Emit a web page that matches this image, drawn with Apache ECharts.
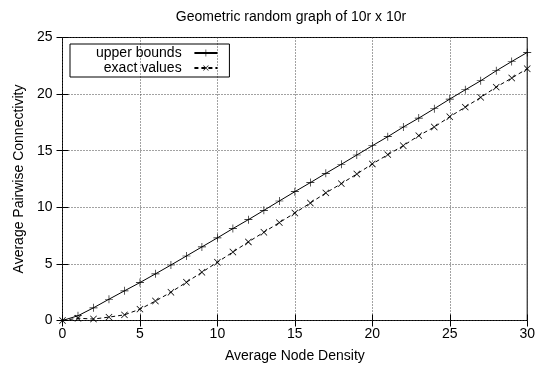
<!DOCTYPE html>
<html>
<head>
<meta charset="utf-8">
<script src="https://cdn.jsdelivr.net/npm/echarts@6/dist/echarts.min.js"></script>
<style>
  html, body { margin: 0; padding: 0; background: #fff; }
  #chart { width: 538px; height: 372px; }
</style>
</head>
<body>
<div id="chart"></div>
<script>
// Average node density (x) and the two connectivity curves
const density = [0,1,2,3,4,5,6,7,8,9,10,11,12,13,14,15,16,17,18,19,20,21,22,23,24,25,26,27,28,29,30];
const upperBounds = [0,0.42,1.12,1.88,2.62,3.35,4.12,4.9,5.7,6.5,7.3,8.12,8.91,9.73,10.56,11.38,12.18,13.0,13.8,14.62,15.44,16.24,17.09,17.88,18.71,19.56,20.38,21.18,22.06,22.88,23.68];
const exactValues = [0,0.2,0.13,0.3,0.5,1.0,1.72,2.5,3.38,4.26,5.15,6.05,6.94,7.8,8.65,9.5,10.38,11.27,12.09,12.94,13.83,14.65,15.44,16.33,17.09,18.0,18.85,19.71,20.62,21.42,22.24];
const xTicks = [0,5,10,15,20,25,30];
const yTicks = [0,5,10,15,20,25];

const FONT = 'Liberation Sans, Arial, sans-serif';
const plus = 'path://M0,4.6H10V5.4H0Z M4.6,0H5.4V10H4.6Z';

const pairs = (ys) => density.map((x, i) => [x, ys[i]]);

const tickAxisX = (pos, showLabel) => ({
  type: 'value', position: pos, min: xTicks[0], max: xTicks[xTicks.length - 1], interval: xTicks[1] - xTicks[0],
  axisLine: { show: false },
  axisTick: { show: true, inside: true, length: 6, lineStyle: { color: '#000' } },
  axisLabel: { show: showLabel, color: '#000', fontFamily: FONT, fontSize: 14, margin: 7 },
  splitLine: { show: showLabel, lineStyle: { color: '#444', type: [1, 2], width: 1 } }
});
const tickAxisY = (pos, showLabel) => ({
  type: 'value', position: pos, min: yTicks[0], max: yTicks[yTicks.length - 1], interval: yTicks[1] - yTicks[0],
  axisLine: { show: false },
  axisTick: { show: true, inside: true, length: 6, lineStyle: { color: '#000' } },
  axisLabel: { show: showLabel, color: '#000', fontFamily: FONT, fontSize: 14, margin: 10 },
  splitLine: { show: showLabel, lineStyle: { color: '#444', type: [1, 2], width: 1 } }
});

const chart = echarts.init(document.getElementById('chart'), null, { renderer: 'canvas' });
chart.setOption({
  animation: false,
  backgroundColor: '#fff',
  title: {
    text: 'Geometric random graph of 10r x 10r',
    left: 286, top: 5, textAlign: 'center',
    textStyle: { fontFamily: FONT, fontSize: 14, fontWeight: 'normal', color: '#000' }
  },
  legend: {
    left: 70, top: 44, orient: 'vertical', align: 'right',
    itemWidth: 23, itemHeight: 9, itemGap: 1,
    padding: [2, 11, 2, 26],
    borderColor: '#000', borderWidth: 1,
    formatter: (name) => name + '  ',
    textStyle: { fontFamily: FONT, fontSize: 14, lineHeight: 12, color: '#000' },
    data: ['upper bounds', 'exact values']
  },
  grid: {
    left: 62.5, right: 10.5, top: 37.5, bottom: 51.5,
    show: true, borderColor: '#000', borderWidth: 1, backgroundColor: 'transparent'
  },
  xAxis: [
    Object.assign(tickAxisX('bottom', true), {
      name: 'Average Node Density', nameLocation: 'middle', nameGap: 29,
      nameTextStyle: { fontFamily: FONT, fontSize: 14, color: '#000' }
    }),
    tickAxisX('top', false)
  ],
  yAxis: [
    Object.assign(tickAxisY('left', true), {
      name: 'Average Pairwise Connectivity', nameLocation: 'middle', nameGap: 36,
      nameTextStyle: { fontFamily: FONT, fontSize: 14, color: '#000' }
    }),
    tickAxisY('right', false)
  ],
  series: [
    {
      name: 'upper bounds', type: 'line', data: pairs(upperBounds),
      symbol: plus, symbolSize: 8,
      itemStyle: { color: '#000' },
      lineStyle: { color: '#000', width: 1, type: 'solid' }
    },
    {
      name: 'exact values', type: 'line', data: pairs(exactValues),
      symbol: plus, symbolSize: 9, symbolRotate: 45,
      itemStyle: { color: '#000' },
      lineStyle: { color: '#000', width: 1, type: [4, 3] }
    }
  ]
});
</script>
</body>
</html>
